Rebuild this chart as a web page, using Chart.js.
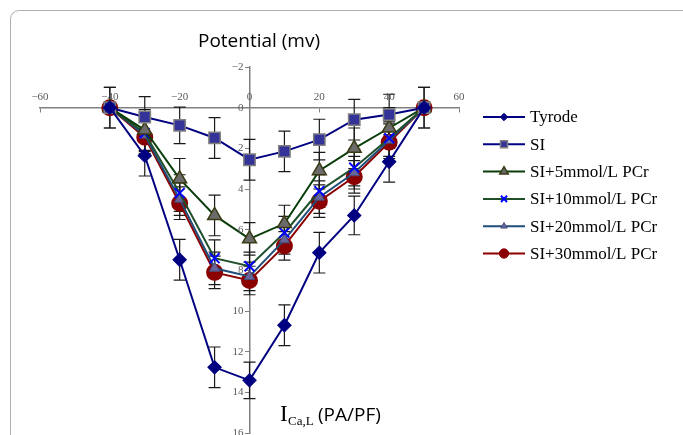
<!DOCTYPE html>
<html>
<head>
<meta charset="utf-8">
<script src="https://cdn.jsdelivr.net/npm/chart.js@4.4.0/dist/chart.umd.min.js"></script>
<style>
  body { margin: 0; background: #fff; overflow: hidden; }
  #wrap { position: relative; width: 683px; height: 435px; }
  #frame { position: absolute; left: 10px; top: 10px; width: 690px; height: 450px;
           border: 1px solid #b0b0b0; border-radius: 9px; }
  canvas { position: absolute; left: 0; top: 0; }
</style>
</head>
<body>
<div id="wrap">
  <div id="frame"></div>
  <canvas id="chart" width="683" height="435"></canvas>
</div>
<script>
// voltage steps (mV)
const voltages = [-40, -30, -20, -10, 0, 10, 20, 30, 40, 50];

// current density
const tyrode = [0, 2.36, 7.48, 12.77, 13.41, 10.7, 7.13, 5.3, 2.66, 0];
const si = [0, 0.46, 0.87, 1.49, 2.56, 2.15, 1.57, 0.59, 0.34, 0];
const pcr5 = [0, 1.1, 3.5, 5.3, 6.45, 5.7, 3.1, 2.0, 1.0, 0];
const pcr10 = [0, 1.25, 4.2, 7.4, 7.8, 6.15, 4.1, 2.95, 1.5, 0];
const pcr20 = [0, 1.35, 4.5, 7.9, 8.3, 6.5, 4.4, 3.2, 1.6, 0];
const pcr30 = [0, 1.45, 4.7, 8.1, 8.5, 6.8, 4.6, 3.4, 1.7, 0];

// error bar half-lengths
const tyrodeErr = [1, 1, 1, 1, 0.9, 1, 1, 0.95, 1, 1];
const siErr = [1, 1, 0.9, 1, 1, 1, 1, 1, 1, 1];
const pcr5Err = [0, 1, 1, 1, 0.8, 0.9, 0.9, 1, 1, 0];
const pcr10Err = [0, 0.9, 0.9, 0.9, 0.7, 0.8, 0.8, 0.9, 0.9, 0];
const pcr20Err = [0, 0.9, 0.8, 0.8, 0.7, 0.7, 0.8, 0.8, 0.9, 0];
const pcr30Err = [0, 0.9, 0.8, 0.8, 0.7, 0.7, 0.8, 0.8, 0.9, 0];

const seriesNames = ["Tyrode", "SI", "SI+5mmol/L PCr", "SI+10mmol/L PCr", "SI+20mmol/L PCr", "SI+30mmol/L PCr"];

// axis ticks
const xTicks = [-60, -40, -20, 0, 20, 40, 60];
const yTicks = [-2, 0, 2, 4, 6, 8, 10, 12, 14, 16];

function pts(vals) {
  return voltages.map((v, i) => ({ x: v, y: vals[i] }));
}

const datasets = [
  { label: seriesNames[0], data: pts(tyrode), err: tyrodeErr, borderColor: "#000080", backgroundColor: "#000080",
    pointStyle: "rectRot", pointRadius: 6, pointBorderColor: "#000080" },
  { label: seriesNames[1], data: pts(si), err: siErr, borderColor: "#000080", backgroundColor: "#333399",
    pointStyle: "rect", pointRadius: 8, pointBorderColor: "#7f7f7f", pointBorderWidth: 1.5 },
  { label: seriesNames[2], data: pts(pcr5), err: pcr5Err, borderColor: "#0b3d0b", backgroundColor: "#6b6b6b",
    pointStyle: "triangle", pointRadius: 8, pointBorderColor: "#3a3a14", pointBorderWidth: 1.5 },
  { label: seriesNames[3], data: pts(pcr10), err: pcr10Err, borderColor: "#1f4f2a", backgroundColor: "#0000ff",
    pointStyle: "crossRot", pointRadius: 7, pointBorderColor: "#0000ff", pointBorderWidth: 2 },
  { label: seriesNames[4], data: pts(pcr20), err: pcr20Err, borderColor: "#1f4e79", backgroundColor: "#66669a",
    pointStyle: "triangle", pointRadius: 6, pointBorderColor: "#4a4a7a", pointBorderWidth: 1 },
  { label: seriesNames[5], data: pts(pcr30), err: pcr30Err, borderColor: "#8b0000", backgroundColor: "#8b0000",
    pointStyle: "circle", pointRadius: 7.5, pointBorderColor: "#8b0000" }
];
datasets.forEach(d => { d.borderWidth = 2; d.fill = false; d.tension = 0; });

// error bars behind the markers
const errorBars = {
  id: "errorBars",
  beforeDatasetsDraw(chart) {
    const ctx = chart.ctx;
    const ys = chart.scales.y;
    ctx.save();
    ctx.strokeStyle = "#1a1a1a";
    ctx.lineWidth = 1.2;
    chart.data.datasets.forEach((ds, di) => {
      const meta = chart.getDatasetMeta(di);
      meta.data.forEach((p, i) => {
        const e = ds.err[i];
        if (!e) return;
        const v = ds.data[i].y;
        const y1 = ys.getPixelForValue(v - e);
        const y2 = ys.getPixelForValue(v + e);
        ctx.beginPath();
        ctx.moveTo(p.x, y1); ctx.lineTo(p.x, y2);
        ctx.moveTo(p.x - 6, y1); ctx.lineTo(p.x + 6, y1);
        ctx.moveTo(p.x - 6, y2); ctx.lineTo(p.x + 6, y2);
        ctx.stroke();
      });
    });
    ctx.restore();
  }
};

// tick labels, titles and legend
const decorations = {
  id: "decorations",
  afterDraw(chart) {
    const ctx = chart.ctx;
    const xs = chart.scales.x, ys = chart.scales.y;
    const x0 = xs.getPixelForValue(0), y0 = ys.getPixelForValue(0);
    ctx.save();
    ctx.fillStyle = "#595959";
    ctx.font = "11px 'Liberation Serif', serif";
    ctx.textAlign = "center";
    ctx.textBaseline = "middle";
    xTicks.forEach(t => {
      ctx.fillText(String(t).replace("-", "\u2212"), xs.getPixelForValue(t), y0 - 11);
    });
    ctx.textAlign = "right";
    yTicks.forEach(t => {
      ctx.fillText(String(t).replace("-", "\u2212"), x0 - 6, ys.getPixelForValue(t));
    });

    // titles
    ctx.fillStyle = "#000";
    ctx.textAlign = "center";
    ctx.textBaseline = "alphabetic";
    ctx.font = "19px 'Open Sans', sans-serif";
    ctx.fillText("Potential (mv)", 259, 47);

    ctx.textAlign = "left";
    ctx.font = "23px 'Liberation Serif', serif";
    ctx.fillText("I", 280, 421);
    ctx.font = "13px 'Liberation Serif', serif";
    ctx.fillText("Ca,L", 288, 425);
    ctx.font = "19px 'Open Sans', sans-serif";
    ctx.fillText("(PA/PF)", 318, 421);

    // legend
    chart.data.datasets.forEach((ds, i) => {
      const ly = 117 + i * 27.3;
      ctx.strokeStyle = ds.borderColor;
      ctx.lineWidth = 2;
      ctx.beginPath();
      ctx.moveTo(483, ly); ctx.lineTo(525, ly);
      ctx.stroke();
      ctx.fillStyle = ds.backgroundColor;
      ctx.strokeStyle = ds.pointBorderColor;
      ctx.lineWidth = ds.pointBorderWidth || 1;
      Chart.helpers.drawPoint(ctx, { pointStyle: ds.pointStyle, radius: ds.pointRadius * 0.62, rotation: 0, borderWidth: ctx.lineWidth }, 504, ly);
      ctx.fillStyle = "#000";
      ctx.font = "17px 'Liberation Serif', serif";
      ctx.textBaseline = "middle";
      ctx.fillText(ds.label, 530, ly + 1);
    });
    ctx.restore();
  }
};

// axes sit inside the plot, so they take no room in the layout
function noRoom(scale) { if (scale.isHorizontal()) scale.height = 0; else scale.width = 0; }

new Chart(document.getElementById("chart"), {
  type: "line",
  data: { datasets: datasets },
  options: {
    responsive: false,
    animation: false,
    layout: { autoPadding: false, padding: { left: 40, right: 224, top: 67, bottom: 2 } },
    plugins: { legend: { display: false }, tooltip: { enabled: false } },
    scales: {
      x: {
        type: "linear", min: -60, max: 60,
        position: { y: 0 },
        afterFit: noRoom,
        grid: { drawOnChartArea: false, drawTicks: true, tickLength: 4, color: "#808080" },
        border: { color: "#808080", width: 1.5 },
        ticks: { display: false, stepSize: 20 }
      },
      y: {
        type: "linear", min: -2, max: 16, reverse: true,
        position: { x: 0 },
        afterFit: noRoom,
        grid: { drawOnChartArea: false, drawTicks: true, tickLength: 4, color: "#808080" },
        border: { color: "#808080", width: 1.5 },
        ticks: { display: false, stepSize: 2 }
      }
    }
  },
  plugins: [errorBars, decorations]
});
</script>
</body>
</html>
